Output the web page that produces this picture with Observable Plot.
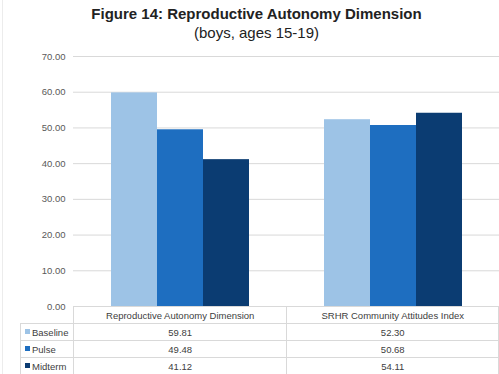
<!DOCTYPE html>
<html><head><meta charset="utf-8">
<script src="https://cdn.jsdelivr.net/npm/d3@7"></script>
<script src="https://cdn.jsdelivr.net/npm/@observablehq/plot@0.6"></script>
<style>
body{margin:0;background:#fff;font-family:"Liberation Sans",Arial,sans-serif;}
#wrap{position:relative;width:499px;height:374px;overflow:hidden;background:#fff;}
#edge{position:absolute;left:2px;top:0;width:1px;height:374px;background:#ececec;}
#title{position:absolute;top:4px;left:7px;width:499px;text-align:center;font-size:15px;line-height:19px;color:#222;}
#title b{font-weight:bold;}
#chart{position:absolute;top:44px;left:0;}
table{position:absolute;top:306px;left:20px;border-collapse:collapse;table-layout:fixed;font-size:9.5px;color:#404040;}
td{border:1px solid #d9d9d9;height:16px;padding:0;text-align:center;white-space:nowrap;line-height:15px;}
td.lab{text-align:left;padding-left:4px;}
td.blank{border-top:none;border-left:none;}
.sw{display:inline-block;width:5px;height:5px;margin-right:2px;vertical-align:middle;position:relative;top:-1px;}
</style></head>
<body>
<div id="wrap">
<div id="edge"></div>
<div id="title"><b>Figure 14: Reproductive Autonomy Dimension</b><br>(boys, ages 15-19)</div>
<div id="chart"></div>
<table id="tbl"></table>
</div>
<script>
const categories = ["Reproductive Autonomy Dimension", "SRHR Community Attitudes Index"];
const series = ["Baseline", "Pulse", "Midterm"];
const baseline = [59.81, 52.30];
const pulse = [49.48, 50.68];
const midterm = [41.12, 54.11];
const yTicks = [0, 10, 20, 30, 40, 50, 60, 70];
const colors = ["#9dc3e6", "#1e6ec0", "#0b3c72"];

const valuesBySeries = {Baseline: baseline, Pulse: pulse, Midterm: midterm};
const data = categories.flatMap((c, i) => series.map(s => ({category: c, series: s, value: valuesBySeries[s][i]})));

const chart = Plot.plot({
  width: 499, height: 270,
  marginTop: 12, marginBottom: 8, marginLeft: 73, marginRight: 0,
  style: {fontFamily: "'Liberation Sans', Arial, sans-serif", fontSize: "9.5px", color: "#595959", background: "transparent"},
  fx: {domain: categories, padding: 0, axis: null, label: null},
  x: {domain: series, paddingInner: 0, paddingOuter: 0.766, axis: null},
  y: {domain: [0, 70], ticks: yTicks, tickFormat: d3.format(".2f"), tickSize: 0, tickPadding: 8, label: null},
  color: {domain: series, range: colors},
  marks: [
    Plot.gridY(yTicks, {stroke: "#d9d9d9", strokeOpacity: 1}),
    Plot.barY(data, {fx: "category", x: "series", y: "value", fill: "series"})
  ]
});
document.getElementById("chart").appendChild(chart);

// data table under the chart
const tbl = document.getElementById("tbl");
const fmt = d3.format(".2f");
let html = '<colgroup><col style="width:53px"><col style="width:214px"><col style="width:212px"></colgroup>';
html += '<tr><td class="blank"></td>' + categories.map(c => `<td>${c}</td>`).join("") + '</tr>';
series.forEach((s, k) => {
  html += `<tr><td class="lab"><span class="sw" style="background:${colors[k]}"></span>${s}</td>` +
    valuesBySeries[s].map(v => `<td>${fmt(v)}</td>`).join("") + '</tr>';
});
tbl.innerHTML = html;
</script>
</body></html>
